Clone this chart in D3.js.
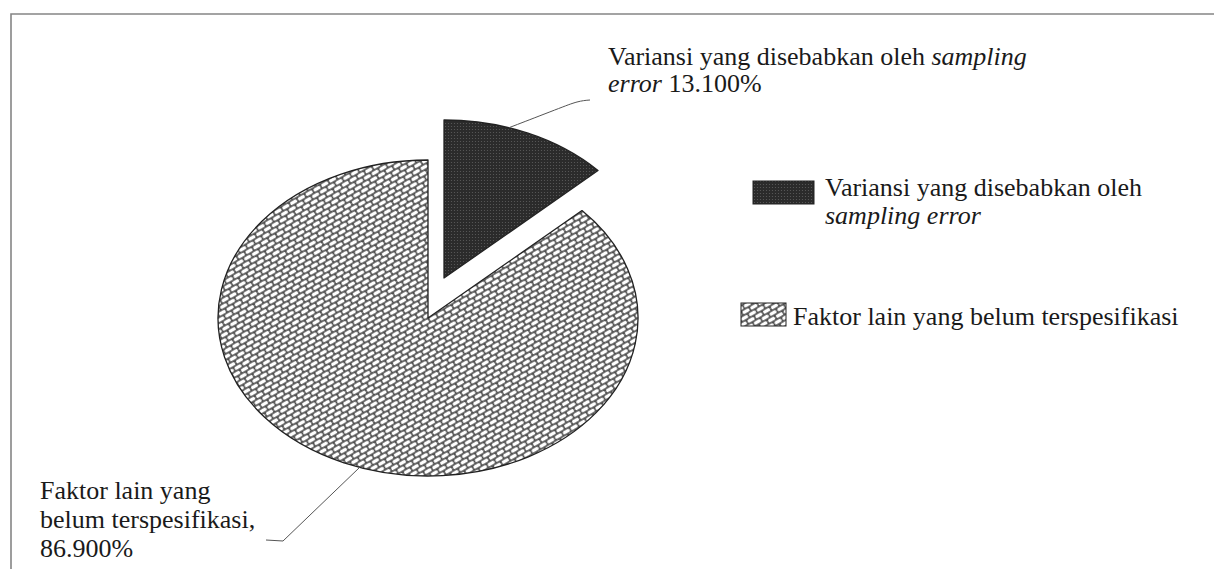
<!DOCTYPE html>
<html>
<head>
<meta charset="utf-8">
<script src="https://cdn.jsdelivr.net/npm/d3@7"></script>
<style>
	html, body { margin: 0; padding: 0; background: #fff; }
	#chart, #chart text, #chart tspan { font-family: "Liberation Serif", "Times New Roman", Tinos, serif; }
</style>
</head>
<body>
<svg id="chart" width="1214" height="569"></svg>
<script>
// data
const categories = ["Variansi yang disebabkan oleh sampling error", "Faktor lain yang belum terspesifikasi"];
const values = [13.1, 86.9];
const fmt = d3.format(".3f");

// callout texts, [text, italic]
const calloutTop = [
	[["Variansi yang disebabkan oleh ", false], ["sampling", true]],
	[["error", true], [" " + fmt(values[0]) + "%", false]]
];
const calloutBottom = [
	[["Faktor lain yang", false]],
	[["belum terspesifikasi,", false]],
	[[fmt(values[1]) + "%", false]]
];
const legendLines = [
	[[["Variansi yang disebabkan oleh", false]], [["sampling error", true]]],
	[[["Faktor lain yang belum terspesifikasi", false]]]
];

const svg = d3.select("#chart");

const cx = 428, cy = 318,
	rx = 210, ry = 158,
	k = ry / rx,
	explode = [16, -40],
	fontSize = 26,
	family = "Liberation Serif";

// patterns
const defs = svg.append("defs");

function shingle (id, pre) {
	const p = defs.append("pattern")
		.attr("id", id)
		.attr("patternUnits", "userSpaceOnUse")
		.attr("width", 9)
		.attr("height", 10)
		.attr("patternTransform", pre + "rotate(-30)");
	p.append("rect").attr("width", 9).attr("height", 10).attr("fill", "#4d4d4d");
	[[0.7, 0.8], [5.2, 5.8], [-3.8, 5.8]].forEach(c => {
		p.append("rect")
			.attr("x", c[0]).attr("y", c[1])
			.attr("width", 7.6).attr("height", 3.4)
			.attr("rx", 1.5)
			.attr("fill", "#fff");
	});
}

function darkDots (id, pre) {
	const p = defs.append("pattern")
		.attr("id", id)
		.attr("patternUnits", "userSpaceOnUse")
		.attr("width", 3)
		.attr("height", 3)
		.attr("patternTransform", pre);
	p.append("rect").attr("width", 3).attr("height", 3).attr("fill", "#2b2b2b");
	p.append("circle").attr("cx", 1.5).attr("cy", 1.5).attr("r", 0.6).attr("fill", "#5c5c5c");
}

shingle("shinglePie", "scale(1," + (1 / k) + ") ");
shingle("shingleFlat", "");
darkDots("darkPie", "scale(1," + (1 / k) + ")");
darkDots("darkFlat", "");

const fills = [["url(#darkPie)", "url(#darkFlat)"], ["url(#shinglePie)", "url(#shingleFlat)"]];

// frame
svg.append("path")
	.attr("d", "M11,569 L11,14 L1214,14")
	.attr("fill", "none")
	.attr("stroke", "#858585")
	.attr("stroke-width", 1.6);

// pie
const pie = d3.pie().sort(null).value(d => d)(values);
const arc = d3.arc().innerRadius(0).outerRadius(rx);

pie.forEach((d, i) => {
	const off = i === 0 ? explode : [0, 0];
	svg.append("g")
		.attr("transform", "translate(" + (cx + off[0]) + "," + (cy + off[1]) + ") scale(1," + k + ")")
		.append("path")
		.attr("d", arc(d))
		.attr("fill", fills[i][0])
		.attr("stroke", "#222")
		.attr("stroke-width", 1.3)
		.attr("vector-effect", "non-scaling-stroke")
		.attr("stroke-linejoin", "round");
});

function onEllipse (a, off) {
	return [cx + off[0] + rx * Math.sin(a), cy + off[1] - ry * Math.cos(a)];
}

function writeLines (x, y0, lh, lines) {
	lines.forEach((parts, j) => {
		const t = svg.append("text")
			.attr("x", x)
			.attr("y", y0 + j * lh)
			.attr("fill", "#1a1a1a")
			.style("font-family", family)
			.style("font-size", fontSize + "px");
		if (parts.length === 1 && !parts[0][1]) {
			t.text(parts[0][0]);
			return;
		}
		parts.forEach(p => {
			t.append("tspan")
				.style("font-family", family)
				.style("font-style", p[1] ? "italic" : "normal")
				.text(p[0]);
		});
	});
}

// leader lines
const a0 = onEllipse(18 * Math.PI / 180, explode);
svg.append("path")
	.attr("d", d3.line().curve(d3.curveBasis)([a0, [560, 108], [578, 101], [590, 100]]))
	.attr("fill", "none")
	.attr("stroke", "#555")
	.attr("stroke-width", 1);

const a1 = onEllipse(199 * Math.PI / 180, [0, 0]);
svg.append("path")
	.attr("d", d3.line()([a1, [283, 541], [266, 540]]))
	.attr("fill", "none")
	.attr("stroke", "#555")
	.attr("stroke-width", 1);

// callouts
writeLines(608, 65, 27, calloutTop);
writeLines(40, 499, 29, calloutBottom);

// legend
const legendSw = [
	{x: 753, y: 181, w: 61, h: 23, tx: 825, ty: 196},
	{x: 741, y: 303, w: 45, h: 23, tx: 793, ty: 325}
];

categories.forEach((c, i) => {
	const s = legendSw[i];
	svg.append("rect")
		.attr("x", s.x).attr("y", s.y)
		.attr("width", s.w).attr("height", s.h)
		.attr("fill", fills[i][1])
		.attr("stroke", "#222")
		.attr("stroke-width", 1);
	writeLines(s.tx, s.ty, 28, legendLines[i]);
});
</script>
</body>
</html>
